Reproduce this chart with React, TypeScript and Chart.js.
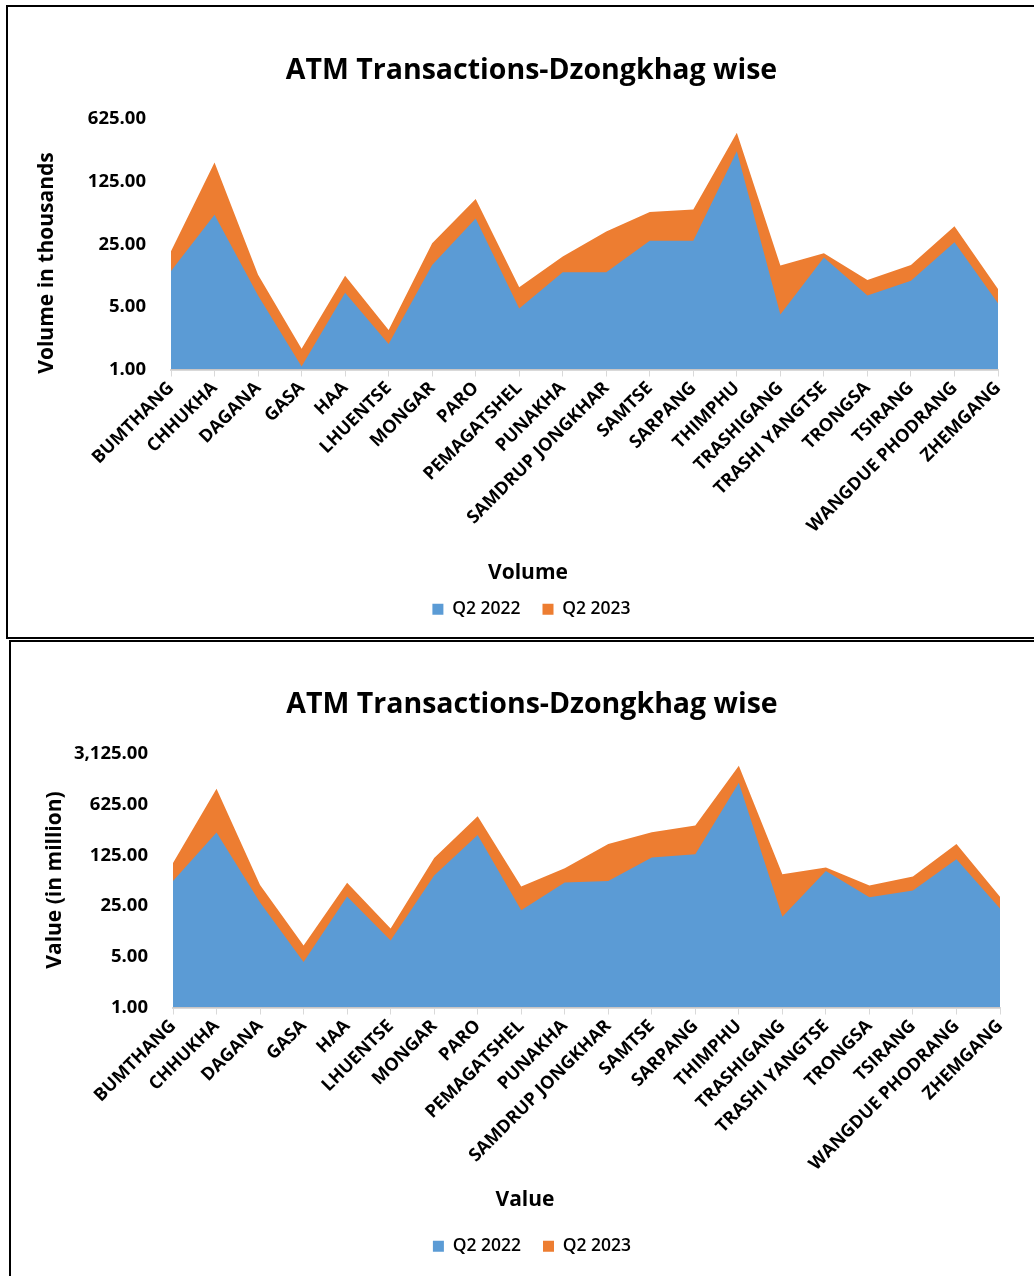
import React, { useEffect, useRef } from "react";
import { Chart, registerables } from "chart.js";

Chart.register(...registerables);

const categories = [
  "BUMTHANG", "CHHUKHA", "DAGANA", "GASA", "HAA", "LHUENTSE", "MONGAR", "PARO",
  "PEMAGATSHEL", "PUNAKHA", "SAMDRUP JONGKHAR", "SAMTSE", "SARPANG", "THIMPHU",
  "TRASHIGANG", "TRASHI YANGTSE", "TRONGSA", "TSIRANG", "WANGDUE PHODRANG", "ZHEMGANG",
];

// Volume (in thousands)
const volumeQ2_2022 = [12.6, 53.3, 6.7, 1.08, 7.2, 1.93, 14.7, 48.3, 4.8, 12.2, 12.2, 27.3, 27.3, 273, 4.1, 17.8, 6.7, 9.8, 26.4, 5.5];
const volumeQ2_2023 = [20.9, 205, 11.4, 1.7, 11.1, 2.76, 25.6, 79.9, 8.3, 18.3, 34.8, 57.3, 60.9, 438, 14.5, 19.9, 10.0, 14.7, 39.6, 7.9];

// Value (in million)
const valueQ2_2022 = [55.3, 258, 28.0, 4.24, 33.9, 8.4, 66, 238, 22.0, 53, 55.5, 117, 130, 1253, 17.8, 76, 33, 41, 111, 23.2];
const valueQ2_2023 = [98, 1036, 48.8, 7.16, 52.6, 12.3, 115, 434, 46.4, 83, 179, 261, 322, 2155, 68.7, 85, 48, 64, 179, 33.6];

const volumeTicks = [1, 5, 25, 125, 625];
const valueTicks = [1, 5, 25, 125, 625, 3125];

const seriesNames = ["Q2 2022", "Q2 2023"];
const BLUE = "#5B9BD5";
const ORANGE = "#ED7D31";
const FONT = "'Open Sans', 'Noto Sans', sans-serif";

type Cfg = {
  width: number;
  height: number;
  a: number[];
  b: number[];
  ticks: number[];
  yTitle: string;
  yTitleX: number;
  yTitleY: number;
  xTitle: string;
  xTitleX: number;
  xTitleY: number;
  titlePadTop: number;
  titlePadBottom: number;
  padLeft: number;
  yWidth: number;
  xHeight: number;
  padRight: number;
  padBottom: number;
};

function AreaChart({ cfg }: { cfg: Cfg }) {
  const ref = useRef<HTMLCanvasElement | null>(null);
  useEffect(() => {
    if (!ref.current) return;
    const axisTitles = {
      id: "axisTitles",
      afterDraw(chart: any) {
        const ctx = chart.ctx;
        ctx.save();
        ctx.fillStyle = "#000";
        ctx.textAlign = "center";
        ctx.textBaseline = "middle";
        ctx.font = `bold 21px ${FONT}`;
        ctx.fillText(cfg.xTitle, cfg.xTitleX, cfg.xTitleY);
        ctx.translate(cfg.yTitleX, cfg.yTitleY);
        ctx.rotate(-Math.PI / 2);
        ctx.fillText(cfg.yTitle, 0, 0);
        ctx.restore();
      },
    };
    const chart = new Chart(ref.current, {
      type: "line",
      data: {
        labels: categories,
        datasets: [
          {
            label: seriesNames[0],
            data: cfg.a,
            backgroundColor: BLUE,
            borderColor: BLUE,
            borderWidth: 0,
            pointRadius: 0,
            fill: "start",
            tension: 0,
          },
          {
            label: seriesNames[1],
            data: cfg.b,
            backgroundColor: ORANGE,
            borderColor: ORANGE,
            borderWidth: 0,
            pointRadius: 0,
            fill: "start",
            tension: 0,
          },
        ],
      },
      plugins: [axisTitles],
      options: {
        animation: false,
        responsive: false,
        layout: { padding: { left: cfg.padLeft, right: cfg.padRight, top: 0, bottom: cfg.padBottom } },
        plugins: {
          title: {
            display: true,
            text: "ATM Transactions-Dzongkhag wise",
            color: "#000",
            font: { family: FONT, size: 28.5, weight: "bold" },
            padding: { top: cfg.titlePadTop, bottom: cfg.titlePadBottom },
          },
          legend: {
            display: true,
            position: "bottom",
            labels: {
              color: "#000",
              font: { family: FONT, size: 17.5, weight: "600" },
              boxWidth: 11,
              boxHeight: 11,
              padding: 22,
            },
          },
          tooltip: { enabled: false },
        },
        scales: {
          x: {
            type: "category",
            offset: false,
            grid: { drawOnChartArea: false, drawTicks: true, tickLength: 7, color: "#d9d9d9" },
            border: { display: true, color: "#d9d9d9", width: 2 },
            ticks: {
              autoSkip: false,
              maxRotation: 45,
              minRotation: 45,
              color: "#000",
              font: { family: FONT, size: 18, weight: "bold" },
              padding: 1,
            },
            afterFit: (scale: any) => {
              scale.height = cfg.xHeight;
            },
          },
          y: {
            type: "logarithmic",
            min: cfg.ticks[0],
            max: cfg.ticks[cfg.ticks.length - 1],
            grid: { display: false, drawTicks: false },
            border: { display: false },
            afterBuildTicks: (scale: any) => {
              scale.ticks = cfg.ticks.map((v) => ({ value: v }));
            },
            ticks: {
              color: "#000",
              font: { family: FONT, size: 18.5, weight: "bold" },
              padding: 25,
              callback: (v: any) =>
                Number(v).toLocaleString("en-US", { minimumFractionDigits: 2, maximumFractionDigits: 2 }),
            },
            afterFit: (scale: any) => {
              scale.width = cfg.yWidth;
            },
          },
        },
      } as any,
    });
    return () => chart.destroy();
  }, [cfg]);
  return <canvas ref={ref} width={cfg.width} height={cfg.height} style={{ display: "block" }} />;
}

const topCfg: Cfg = {
  width: 1026,
  height: 630,
  a: volumeQ2_2022,
  b: volumeQ2_2023,
  ticks: volumeTicks,
  yTitle: "Volume in thousands",
  yTitleX: 39,
  yTitleY: 256,
  xTitle: "Volume",
  xTitleX: 520,
  xTitleY: 566,
  titlePadTop: 47,
  titlePadBottom: 30.8,
  padLeft: 57,
  yWidth: 106,
  xHeight: 209,
  padRight: 36,
  padBottom: 9,
};

const bottomCfg: Cfg = {
  width: 1023,
  height: 634,
  a: valueQ2_2022,
  b: valueQ2_2023,
  ticks: valueTicks,
  yTitle: "Value (in million)",
  yTitleX: 44,
  yTitleY: 238,
  xTitle: "Value",
  xTitleX: 514,
  xTitleY: 558,
  titlePadTop: 46,
  titlePadBottom: 31.8,
  padLeft: 53,
  yWidth: 109,
  xHeight: 208,
  padRight: 34,
  padBottom: 11,
};

export default function App() {
  return (
    <div
      style={{
        position: "fixed",
        left: 0,
        top: 0,
        width: 1034,
        height: 1276,
        overflow: "hidden",
        background: "#fff",
      }}
    >
      <div
        style={{
          position: "absolute",
          left: 6,
          top: 5,
          width: 1040,
          height: 630,
          border: "2px solid #000",
          overflow: "hidden",
        }}
      >
        <AreaChart cfg={topCfg} />
      </div>
      <div
        style={{
          position: "absolute",
          left: 9,
          top: 640,
          width: 1040,
          height: 700,
          border: "2px solid #000",
          overflow: "hidden",
        }}
      >
        <AreaChart cfg={bottomCfg} />
      </div>
    </div>
  );
}
